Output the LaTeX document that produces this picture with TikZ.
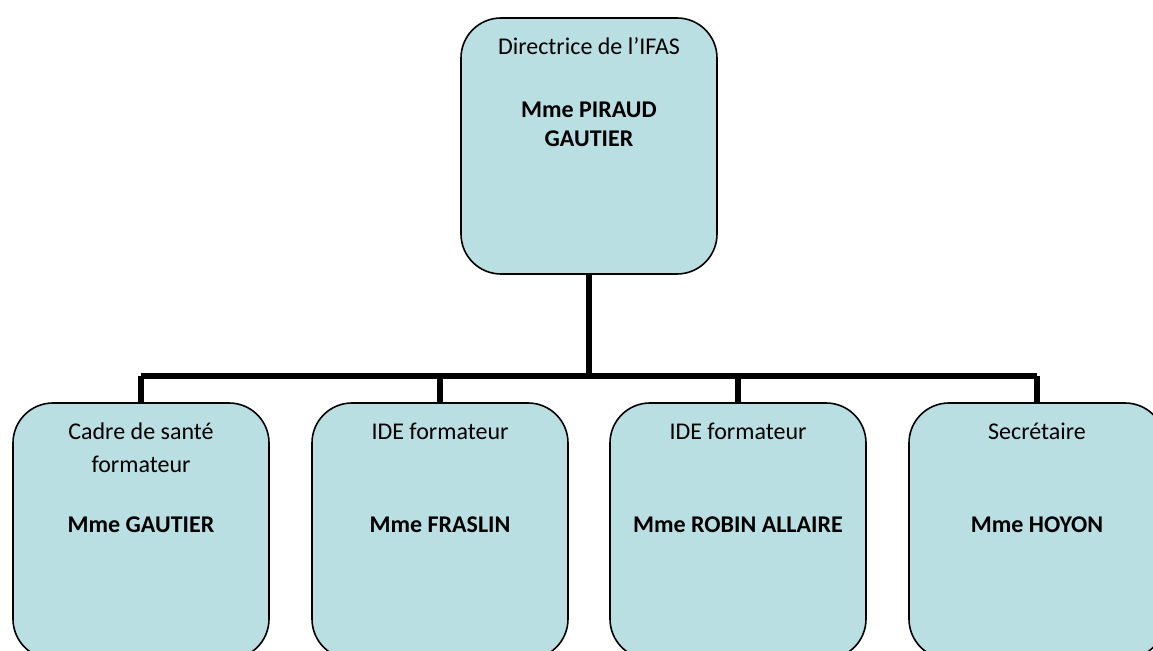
\documentclass[tikz,border=0pt]{standalone}
\usepackage{fontspec}
\setmainfont{Carlito}
\definecolor{boxfill}{RGB}{185,223,227}
\tikzset{
  box/.style={draw=black, line width=0.8pt, fill=boxfill, rounded corners=20pt,
    minimum width=128pt, minimum height=128pt, inner sep=0pt},
  role/.style={anchor=base, inner sep=0pt, font=\fontsize{12}{14}\selectfont},
  who/.style={anchor=base, inner sep=0pt, font=\fontsize{12}{14}\selectfont\bfseries},
  link/.style={line width=3pt}
}
\begin{document}
\begin{tikzpicture}[x=0.5pt,y=-0.5pt]
      \useasboundingbox (0,0) rectangle (1153,651);
      \clip (0,0) rectangle (1153,651);
      \coordinate (bar) at (589,376);
      \draw
        (589,146) node[box] (dir){}
        (141,531) node[box] (cadre){}
        (440,531) node[box] (ide1){}
        (738,531) node[box] (ide2){}
        (1037,531) node[box] (secr){};
      \path
        (589,55) node[role] (dirT){Directrice de l’IFAS}
        (589,118) node[who] (dirN1){Mme PIRAUD}
        (589,147) node[who] (dirN2){GAUTIER}
        (141,440) node[role] (cadreT1){Cadre de santé}
        (141,473) node[role] (cadreT2){formateur}
        (141,533) node[who] (cadreN){Mme GAUTIER}
        (440,440) node[role] (ide1T){IDE formateur}
        (440,533) node[who] (ide1N){Mme FRASLIN}
        (738,440) node[role] (ide2T){IDE formateur}
        (738,533) node[who] (ide2N){Mme ROBIN ALLAIRE}
        (1037,440) node[role] (secrT){Secrétaire}
        (1037,533) node[who] (secrN){Mme HOYON};
      \begin{scope}[link]
        \draw (dir.south) to (dir.south |- bar);
        \draw[line cap=square] (cadre.north |- bar) to (secr.north |- bar);
        \draw (cadre.north |- bar) to (cadre.north);
        \draw (ide1.north |- bar) to (ide1.north);
        \draw (ide2.north |- bar) to (ide2.north);
        \draw (secr.north |- bar) to (secr.north);
      \end{scope}
    \end{tikzpicture}
\end{document}
